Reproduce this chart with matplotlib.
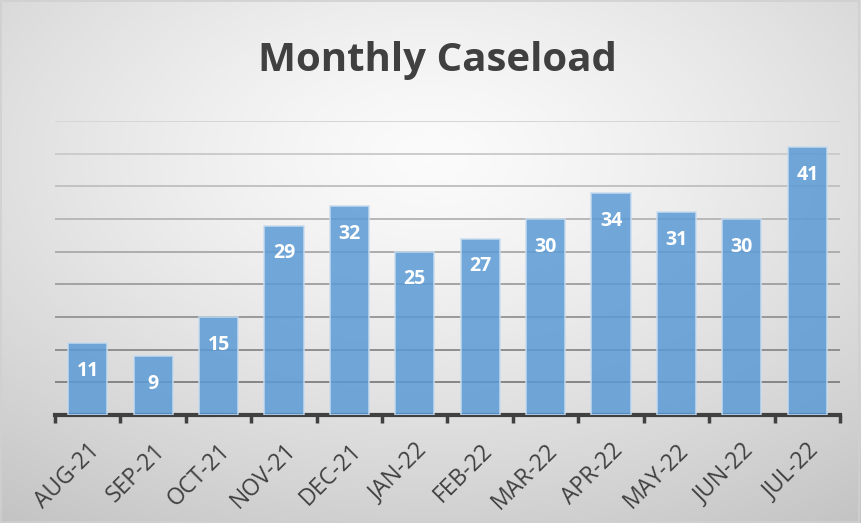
import numpy as np
import matplotlib
matplotlib.use("Agg")
import matplotlib.pyplot as plt
from matplotlib.transforms import ScaledTranslation

months = ["AUG-21", "SEP-21", "OCT-21", "NOV-21", "DEC-21", "JAN-22",
          "FEB-22", "MAR-22", "APR-22", "MAY-22", "JUN-22", "JUL-22"]
caseload = [11, 9, 15, 29, 32, 25, 27, 30, 34, 31, 30, 41]

plt.rcParams['font.family'] = ['Open Sans', 'DejaVu Sans']

W, H = 861, 523
fig = plt.figure(figsize=(W / 100, H / 100), dpi=100)

# radial gradient background
bg = fig.add_axes([0, 0, 1, 1], zorder=-10)
yy, xx = np.mgrid[0:H, 0:W]
cx, cy = W * 0.5, H * 0.3
r = np.sqrt(((xx - cx) / W) ** 2 + ((yy - cy) / H) ** 2)
r = r / r.max()
v = 0.985 - 0.22 * r ** 1.3
img = np.dstack([v, v, v])
bg.imshow(img, aspect='auto', extent=[0, 1, 0, 1], origin='upper')
bg.set_xlim(0, 1)
bg.set_ylim(0, 1)
bg.axis('off')
bg.add_patch(plt.Rectangle((0.001, 0.001), 0.997, 0.997, fill=False,
                           edgecolor='#d0d0d0', linewidth=1.2))

ax = fig.add_axes([55 / W, 1 - 415 / H, (840 - 55) / W, (415 - 121) / H])
ax.patch.set_alpha(0)
x = np.arange(len(months))
ax.bar(x, caseload, width=0.6, color='#5b9bd5', alpha=0.85,
       edgecolor='#c9dcf0', linewidth=1.2, zorder=3)
ax.set_xlim(-0.5, len(months) - 0.5)
ax.set_ylim(0, 45)
ax.set_yticks([])
levels = np.arange(5, 46, 5)
for lv in levels:
    t = (lv - 5) / 40.0
    g = 0.52 + 0.32 * t
    ax.axhline(lv, color=(g, g, g), linewidth=1.4, zorder=1)
for s in ['top', 'right', 'left']:
    ax.spines[s].set_visible(False)
ax.spines['bottom'].set_color('#404040')
ax.spines['bottom'].set_linewidth(3)
ax.set_xticks(x)
ax.set_xticklabels(months, rotation=45, ha='right', rotation_mode='anchor',
                   fontsize=16.5, color='#404040')
off = ScaledTranslation(5 / 100, 0, fig.dpi_scale_trans)
for lab in ax.get_xticklabels():
    lab.set_transform(lab.get_transform() + off)
ax.set_xticks(np.arange(-0.5, len(months)), minor=True)
ax.tick_params(axis='x', which='major', length=0, pad=17)
ax.tick_params(axis='x', which='minor', length=6, width=2.5, color='#404040')

for xi, val in zip(x, caseload):
    ax.annotate(str(val), (xi, val), xytext=(0, -20), textcoords='offset points',
                ha='center', va='center', color='white', fontsize=14,
                fontweight='bold', zorder=5)

fig.text(437 / W, 1 - 60 / H, "Monthly Caseload", ha='center', va='center',
         fontsize=29, fontweight='bold', color='#404040')

fig.savefig("out.png", dpi=100)
